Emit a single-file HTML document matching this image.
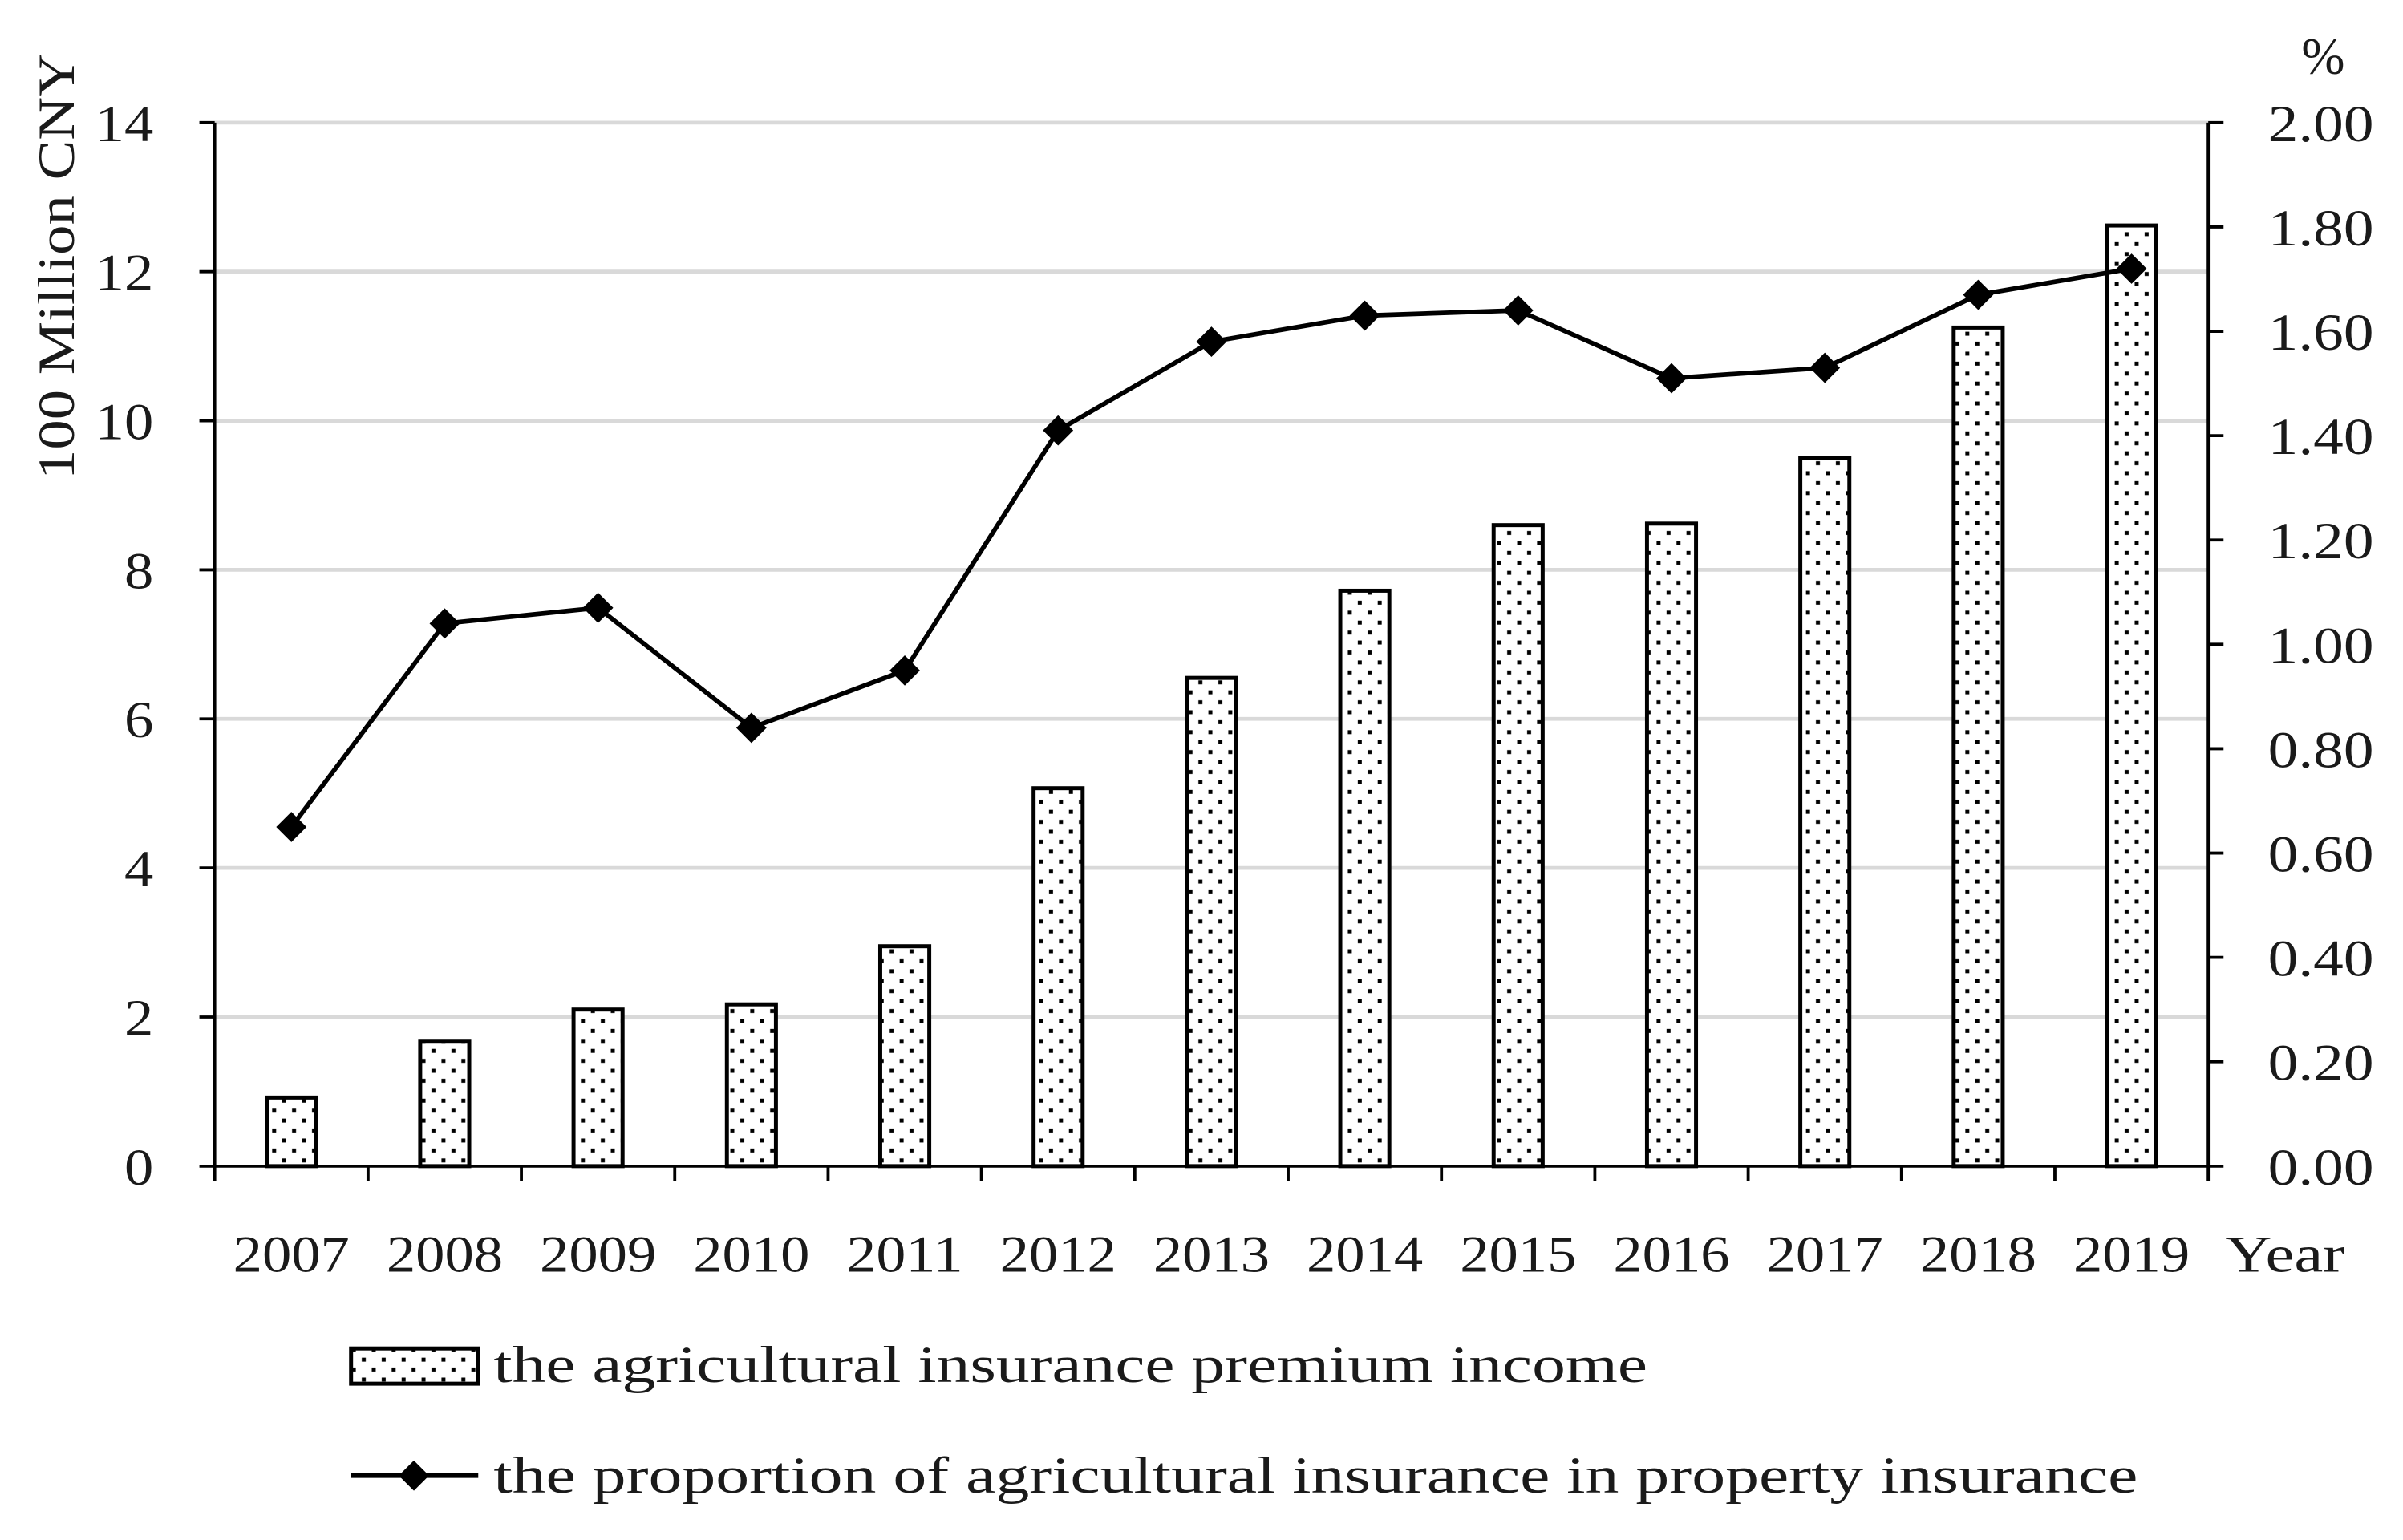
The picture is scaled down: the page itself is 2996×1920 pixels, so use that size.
<!DOCTYPE html>
<html><head><meta charset="utf-8"><style>
html,body{margin:0;padding:0;background:#fff;}
svg{display:block;}
text{font-family:"Liberation Serif",serif;fill:#1a1a1a;}
</style></head><body>
<svg id="chart" width="2996" height="1920" viewBox="0 0 1568 1005" xmlns="http://www.w3.org/2000/svg">
<defs>
<pattern id="dots" width="13" height="13" patternUnits="userSpaceOnUse">
<rect width="13" height="13" fill="#fff"/>
<rect x="2" y="2" width="2.6" height="2.6" fill="#000"/>
<rect x="8.5" y="8.5" width="2.6" height="2.6" fill="#000"/>
</pattern>
</defs>
<g id="grid"></g>
<g id="bars"></g>
<g id="axes"></g>
<g id="line"></g>
<text x="0" y="0" font-size="34" text-anchor="middle" textLength="278" lengthAdjust="spacingAndGlyphs" transform="translate(48,174) rotate(-90)">100 Million CNY</text>
<text x="1516" y="48" font-size="34" text-anchor="middle">%</text>
<text x="1491" y="830" font-size="34" text-anchor="middle" textLength="78" lengthAdjust="spacingAndGlyphs">Year</text>
<g>
<rect x="229" y="880" width="83" height="23" fill="url(#dots)" stroke="#000" stroke-width="2.6"/>
<text x="322" y="902" font-size="34" textLength="753" lengthAdjust="spacingAndGlyphs">the agricultural insurance premium income</text>
<line x1="229" y1="963" x2="312" y2="963" stroke="#000" stroke-width="3"/>
<rect x="263" y="956" width="14" height="14" fill="#000" transform="rotate(45 270 963)"/>
<text x="322" y="974" font-size="34" textLength="1073" lengthAdjust="spacingAndGlyphs">the proportion of agricultural insurance in property insurance</text>
</g>
</svg>
<script>
const years=["2007","2008","2009","2010","2011","2012","2013","2014","2015","2016","2017","2018","2019"];
const premium=[0.92,1.68,2.1,2.17,2.95,5.07,6.55,7.72,8.6,8.62,9.5,11.25,12.62];
const proportion=[0.65,1.04,1.07,0.84,0.95,1.41,1.58,1.63,1.64,1.51,1.53,1.67,1.72];
const leftTicks=[0,2,4,6,8,10,12,14];
const rightTicks=["0.00","0.20","0.40","0.60","0.80","1.00","1.20","1.40","1.60","1.80","2.00"];
const NS="http://www.w3.org/2000/svg";
const X0=140,X1=1441,Y0=761,Y1=80;
const yL=v=>Y0-(v/14)*(Y0-Y1);
const yR=v=>Y0-(v/2)*(Y0-Y1);
const step=(X1-X0)/years.length;
const xC=i=>X0+step*(i+0.5);
function mk(tag,attrs,parent){const e=document.createElementNS(NS,tag);for(const k in attrs)e.setAttribute(k,attrs[k]);parent.appendChild(e);return e;}
const grid=document.getElementById('grid'),bars=document.getElementById('bars'),axes=document.getElementById('axes'),line=document.getElementById('line');
leftTicks.forEach(t=>{
  if(t>0){const g=mk('line',{x1:X0,x2:X1,y1:yL(t),y2:yL(t),stroke:'#d9d9d9','stroke-width':2.5},grid);
  
  }
  mk('line',{x1:X0-10,x2:X0,y1:yL(t),y2:yL(t),stroke:'#000','stroke-width':2},axes);
  const s=String(t);
  const tx=mk('text',{x:X0-40,y:yL(t)+12,'font-size':34,'text-anchor':'end',textLength:19*s.length,lengthAdjust:'spacingAndGlyphs'},axes);tx.textContent=s;
  
  
});
rightTicks.forEach(t=>{
  const v=parseFloat(t);
  mk('line',{x1:X1,x2:X1+10,y1:yR(v),y2:yR(v),stroke:'#000','stroke-width':2},axes);
  const tx=mk('text',{x:X1+39,y:yR(v)+12,'font-size':34,textLength:69,lengthAdjust:'spacingAndGlyphs'},axes);tx.textContent=t;
  
  
});
premium.forEach((v,i)=>{
  const r=mk('rect',{x:xC(i)-16,y:yL(v),width:32,height:Y0-yL(v),fill:'url(#dots)',stroke:'#000','stroke-width':2.6},bars);
  
  
});
mk('line',{x1:X0,x2:X0,y1:Y1,y2:Y0,stroke:'#000','stroke-width':2},axes);
mk('line',{x1:X1,x2:X1,y1:Y1,y2:Y0,stroke:'#000','stroke-width':2},axes);
mk('line',{x1:X0,x2:X1,y1:Y0,y2:Y0,stroke:'#000','stroke-width':2},axes);
for(let i=0;i<=years.length;i++){mk('line',{x1:X0+step*i,x2:X0+step*i,y1:Y0,y2:Y0+10,stroke:'#000','stroke-width':2},axes);}
years.forEach((y,i)=>{
  const tx=mk('text',{x:xC(i),y:830,'font-size':34,'text-anchor':'middle',textLength:76,lengthAdjust:'spacingAndGlyphs'},axes);tx.textContent=y;
  
  
});
const pts=proportion.map((v,i)=>xC(i)+','+yR(v)).join(' ');
const pl=mk('polyline',{points:pts,fill:'none',stroke:'#000','stroke-width':3},line);


proportion.forEach((v,i)=>{
  const m=mk('rect',{x:xC(i)-7,y:yR(v)-7,width:14,height:14,fill:'#000',transform:`rotate(45 ${xC(i)} ${yR(v)})`},line);
  
  
});
</script>
</body></html>
